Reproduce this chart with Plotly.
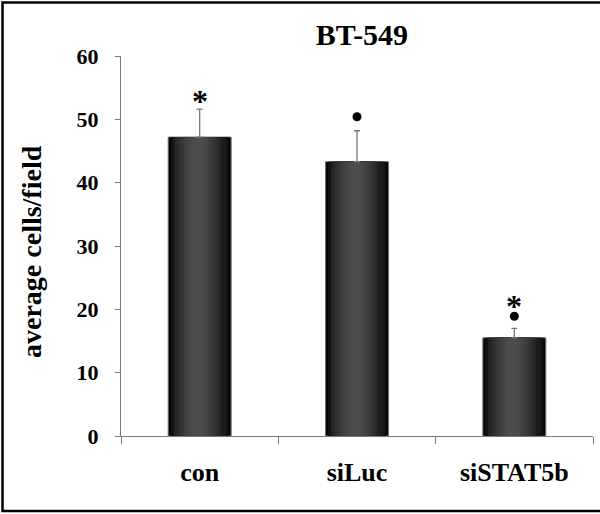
import plotly.graph_objects as go

# ---- data ----
categories = ["con", "siLuc", "siSTAT5b"]
means = [47.2, 43.3, 15.5]
err_plus = [4.4, 4.9, 1.5]
star_y = [54.2, None, 21.8]     # "*" significance marks
dot_y = [None, 50.4, 18.9]      # "•" significance marks
y_ticks = [0, 10, 20, 30, 40, 50, 60]
title_text = "BT-549"
y_title = "average cells/field"

# ---- layout geometry (pixels) ----
W, H = 600, 514
L, R, T, B = 121, 7, 56, 78
pw, ph = W - L - R, H - T - B

FONT = "Liberation Serif, Times New Roman, serif"

fig = go.Figure()

# layered bars to imitate the cylinder-like shading
bar_w = 0.40
layers = [
    (1.00, "#060606"),
    (0.92, "#121212"),
    (0.84, "#1c1c1c"),
    (0.74, "#262626"),
    (0.64, "#2f2f2f"),
    (0.54, "#373737"),
    (0.44, "#3e3e3e"),
    (0.34, "#444444"),
    (0.24, "#494949"),
    (0.14, "#4c4c4c"),
]
for i, (f, c) in enumerate(layers):
    fig.add_trace(go.Bar(
        x=categories, y=means, width=bar_w * f,
        offset=-bar_w * f / 2 - (0.012 if i > 2 else 0),
        marker=dict(color=c,
                    line=dict(color="#707070" if i == 0 else c, width=1 if i == 0 else 0)),
        hoverinfo="skip", showlegend=False,
    ))

# error bars (upper only)
fig.add_trace(go.Scatter(
    x=categories, y=means, mode="markers",
    marker=dict(size=1, color="rgba(0,0,0,0)"),
    error_y=dict(type="data", symmetric=False, array=err_plus,
                 arrayminus=[0, 0, 0], color="#777777", thickness=1.3, width=3),
    hoverinfo="skip", showlegend=False,
))

# significance marks
fig.add_trace(go.Scatter(
    x=categories, y=dot_y, mode="markers",
    marker=dict(symbol="circle", size=9, color="black"),
    hoverinfo="skip", showlegend=False,
))
for cat, sy in zip(categories, star_y):
    if sy is not None:
        fig.add_annotation(x=cat, y=sy, text="*", showarrow=False,
                           font=dict(family=FONT, size=32, color="black", weight="bold"),
                           yanchor="middle", yshift=-8)

# y-axis title
fig.add_annotation(
    xref="paper", yref="paper",
    x=(31 - L) / pw, y=1 - (252 - T) / ph,
    text=y_title, textangle=-90, showarrow=False,
    font=dict(family=FONT, size=28, color="black", weight="bold"),
    xanchor="center", yanchor="middle",
)

# outer frame
fig.add_shape(type="rect", xref="paper", yref="paper",
              x0=(2.5 - L) / pw, x1=(603 - L) / pw,
              y0=1 - (511 - T) / ph, y1=1 - (2.5 - T) / ph,
              line=dict(color="black", width=2.5), fillcolor="rgba(0,0,0,0)",
              layer="above")

fig.update_layout(
    width=W, height=H,
    margin=dict(l=L, r=R, t=T, b=B, pad=0),
    paper_bgcolor="white", plot_bgcolor="white",
    barmode="overlay",
    showlegend=False,
    title=dict(text=title_text, x=362 / W, xanchor="center",
               y=1 - 34 / H, yanchor="middle", yref="container",
               font=dict(family=FONT, size=30, color="black", weight="bold")),
    xaxis=dict(
        type="category", categoryorder="array", categoryarray=categories,
        range=[-0.5, 2.5],
        showline=True, linecolor="#7a7a7a", linewidth=1,
        ticks="outside", tickson="boundaries", ticklen=7, tickcolor="#7a7a7a",
        tickwidth=1, showgrid=False, zeroline=False,
        tickfont=dict(family=FONT, size=26, color="black", weight="bold"),
        ticklabelstandoff=13,
    ),
    yaxis=dict(
        range=[0, 60], tickvals=y_ticks,
        showline=True, linecolor="#7a7a7a", linewidth=1,
        ticks="outside", ticklen=5, tickcolor="#7a7a7a", tickwidth=1,
        showgrid=False, zeroline=False,
        tickfont=dict(family=FONT, size=22, color="black", weight="bold"),
        ticklabelstandoff=12,
    ),
)

fig.write_html("out.html", config={"displayModeBar": False},
               post_script="document.body.style.margin='0';")
